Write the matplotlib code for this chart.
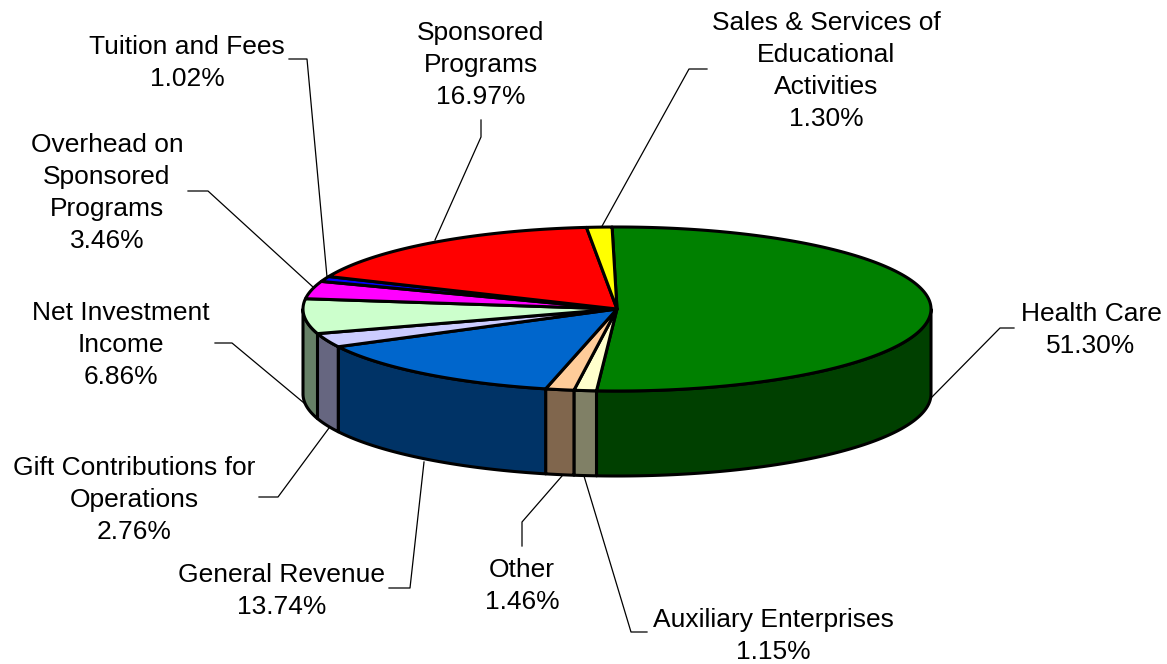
import numpy as np
import matplotlib
matplotlib.use("Agg")
import matplotlib.pyplot as plt
from matplotlib.colors import to_rgb

# clockwise from the top of the pie
names = ["Health Care", "Auxiliary Enterprises", "Other", "General Revenue",
         "Gift Contributions for\nOperations", "Net Investment\nIncome",
         "Overhead on\nSponsored\nPrograms", "Tuition and Fees",
         "Sponsored\nPrograms", "Sales & Services of\nEducational\nActivities"]
shares = [51.30, 1.15, 1.46, 13.74, 2.76, 6.86, 3.46, 1.02, 16.97, 1.30]
colors = ["#008000", "#FFFFCC", "#FFCC99", "#0066CC", "#CCCCFF",
          "#CCFFCC", "#FF00FF", "#0000FF", "#FF0000", "#FFFF00"]

# layout in pixels
cx, cy, rx, ry, depth = 617, 309, 314, 82, 85
start = -0.9
label_pos = [(1091, 330), (773, 636), (522, 586), (282, 591), (134, 500),
             (121, 345), (107, 193), (187, 63), (481, 65), (826, 71)]
leaders = [
    [(931, 398), (1000, 328), (1014, 328)],
    [(584, 476), (631, 632), (647, 632)],
    [(562, 476), (522, 522), (522, 546)],
    [(424, 462), (410, 588), (389, 588)],
    [(329, 428), (278, 497), (259, 497)],
    [(304, 403), (232, 343), (215, 343)],
    [(313, 287), (208, 191), (188, 191)],
    [(327, 277), (307, 59), (289, 59)],
    [(435, 240), (481, 137), (481, 120)],
    [(601, 228), (689, 69), (707, 69)],
]


def rim(t0, t1):
    t = np.radians(np.linspace(t0, t1, 200))
    return cx + rx * np.sin(t), cy - ry * np.cos(t)


fig = plt.figure(figsize=(11.67, 6.64), dpi=100)
ax = fig.add_axes([0, 0, 1, 1])
ax.set_xlim(0, 1167)
ax.set_ylim(664, 0)
ax.axis("off")

edges = start + np.concatenate([[0], np.cumsum(shares)]) / np.sum(shares) * 360

for pts in leaders:
    xs, ys = zip(*pts)
    ax.plot(xs, ys, color="black", lw=0.9, zorder=1)

# outer wall, only the part facing the viewer
for i, c in enumerate(colors):
    a, b = max(edges[i], 90), min(edges[i + 1], 270)
    if a >= b:
        continue
    x, y = rim(a, b)
    side = tuple(v * 0.5 for v in to_rgb(c))
    ax.fill(np.r_[x, x[::-1]], np.r_[y, y[::-1] + depth], facecolor=side,
            edgecolor="black", lw=2.2, joinstyle="round", zorder=2)

# top face
for i, c in enumerate(colors):
    x, y = rim(edges[i], edges[i + 1])
    ax.fill(np.r_[cx, x], np.r_[cy, y], facecolor=c, edgecolor="black",
            lw=2.2, joinstyle="round", zorder=3)

for name, share, (lx, ly) in zip(names, shares, label_pos):
    ax.text(lx, ly, f"{name}\n{share:.2f}%", ha="center", va="center",
            multialignment="center", fontsize=19, linespacing=1.43,
            family="Liberation Sans", color="black", zorder=4)

fig.savefig("out.png", dpi=100, facecolor="white")
